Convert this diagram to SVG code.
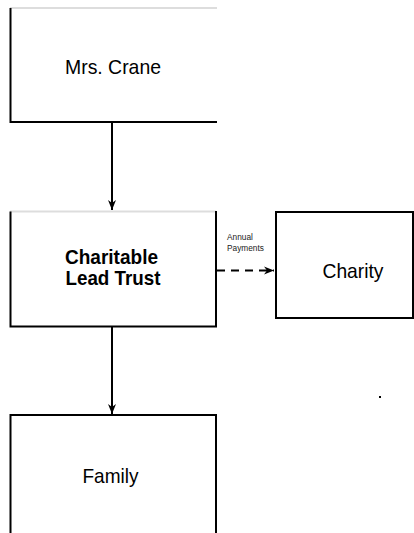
<svg xmlns="http://www.w3.org/2000/svg" width="414" height="533" viewBox="0 0 414 533">
<style>
.t{font-family:"Liberation Sans",Arial,sans-serif;fill:#000;text-anchor:middle;font-size:21px}
.s{font-family:"Liberation Sans",Arial,sans-serif;fill:#222;font-size:8.3px}
.b{stroke:#000;stroke-width:2;fill:none}
.g{stroke:#ddd;stroke-width:2;fill:none}
</style>
<defs>
<marker id="ah" viewBox="0 0 10 10" refX="10" refY="5" markerWidth="10" markerHeight="10" markerUnits="userSpaceOnUse" orient="auto">
<path d="M0,1 L10,5 L0,9 L3,5 Z" fill="#000"/>
</marker>
</defs>
<rect width="414" height="533" fill="#fff"/>
<g id="mrs-crane">
<line class="g" x1="10" y1="8" x2="217" y2="8"/>
<path class="b" d="M10.5,8 V122 H217"/>
<text class="t" x="113" y="74" textLength="96" lengthAdjust="spacingAndGlyphs">Mrs. Crane</text>
</g>
<g id="trust">
<line class="g" x1="10" y1="211.5" x2="216" y2="211.5"/>
<path class="b" d="M10.5,211.5 V326.5 H216 V211"/>
<text class="t" x="111.5" y="263.5" font-weight="bold" font-size="19" textLength="93" lengthAdjust="spacingAndGlyphs">Charitable</text>
<text class="t" x="113" y="285" font-weight="bold" font-size="19" textLength="95" lengthAdjust="spacingAndGlyphs">Lead Trust</text>
</g>
<g id="charity">
<rect class="b" x="276" y="212" width="137" height="106"/>
<text class="t" x="353" y="278" textLength="61" lengthAdjust="spacingAndGlyphs">Charity</text>
</g>
<g id="family">
<path class="b" d="M10.5,533 V415 H216 V533"/>
<text class="t" x="110.5" y="482.5" textLength="56" lengthAdjust="spacingAndGlyphs">Family</text>
</g>
<g id="connectors">
<line class="b" x1="112" y1="123" x2="112" y2="210" marker-end="url(#ah)"/>
<line class="b" x1="112" y1="327" x2="112" y2="414" marker-end="url(#ah)"/>
<line class="b" x1="217" y1="270.5" x2="274" y2="270.5" stroke-dasharray="8,6" marker-end="url(#ah)"/>
<text class="s" x="227" y="240">Annual</text>
<text class="s" x="227" y="251">Payments</text>
</g>
<rect x="379" y="396" width="2" height="2" fill="#000"/>
</svg>
